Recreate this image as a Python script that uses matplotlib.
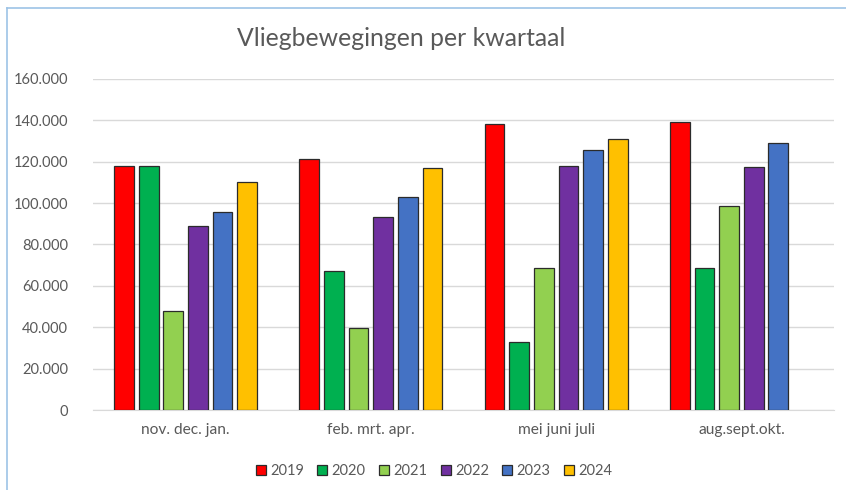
import matplotlib.pyplot as plt
import numpy as np
from matplotlib.lines import Line2D
from matplotlib.patches import Patch
from matplotlib.ticker import FuncFormatter

categories = ['nov. dec. jan.', 'feb. mrt. apr.', 'mei juni juli', 'aug.sept.okt.']
years = ['2019', '2020', '2021', '2022', '2023', '2024']
values_2019 = [118000, 121500, 138200, 139000]
values_2020 = [118000, 67200, 33000, 68500]
values_2021 = [48000, 39500, 68500, 98600]
values_2022 = [88900, 93300, 118000, 117300]
values_2023 = [95600, 102800, 125700, 128900]
values_2024 = [110200, 117100, 131100, np.nan]
colors = ['#FF0000', '#00B050', '#92D050', '#7030A0', '#4472C4', '#FFC000']

series = [values_2019, values_2020, values_2021, values_2022, values_2023, values_2024]

plt.rcParams['font.family'] = ['Lato', 'DejaVu Sans']

fig = plt.figure(figsize=(8.46, 4.90), dpi=100)
ax = fig.add_axes([93 / 846, 80 / 490, (834 - 93) / 846, (410 - 79) / 490])

x = np.arange(len(categories))
pitch = 0.133
width = 0.107
for i, (vals, col) in enumerate(zip(series, colors)):
    offs = (i - 2.5) * pitch
    ax.bar(x + offs, vals, width=width, color=col, edgecolor='#2b2b2b', linewidth=0.9, zorder=3)

ax.set_xlim(-0.5, len(categories) - 0.5)
ax.set_ylim(0, 160000)
ax.set_yticks(np.arange(0, 160001, 20000))
ax.yaxis.set_major_formatter(FuncFormatter(lambda v, p: '0' if v == 0 else f'{int(v):,}'.replace(',', '.')))
ax.set_xticks(x)
ax.set_xticklabels(categories)
ax.tick_params(axis='both', length=0, colors='#595959')
ax.tick_params(axis='y', pad=18, labelsize=10.5)
ax.tick_params(axis='x', pad=9, labelsize=11.2)
ax.grid(axis='y', color='#D9D9D9', linewidth=1, zorder=0)
for s in ['top', 'right', 'left']:
    ax.spines[s].set_visible(False)
ax.spines['bottom'].set_color('#D9D9D9')

fig.text(401 / 846, 1 - 38 / 490, 'Vliegbewegingen per kwartaal', ha='center', va='center',
         fontsize=17.8, color='#595959')

handles = [Patch(facecolor=c, edgecolor='#2b2b2b', linewidth=0.9) for c in colors]
fig.legend(handles, years, loc='center', bbox_to_anchor=(434 / 846, 1 - 471 / 490), ncol=6,
           frameon=False, fontsize=10.5, handlelength=0.7, handleheight=0.7, handletextpad=0.3,
           columnspacing=0.9, labelcolor='#595959')

# chart frame (only left and top edges visible in the crop)
fig.add_artist(Line2D([7 / 846, 7 / 846], [0, 1 - 8 / 490], color='#9DC3E6', linewidth=1.2))
fig.add_artist(Line2D([7 / 846, 1], [1 - 8 / 490, 1 - 8 / 490], color='#9DC3E6', linewidth=1.2))

fig.savefig('out.png', dpi=100)
